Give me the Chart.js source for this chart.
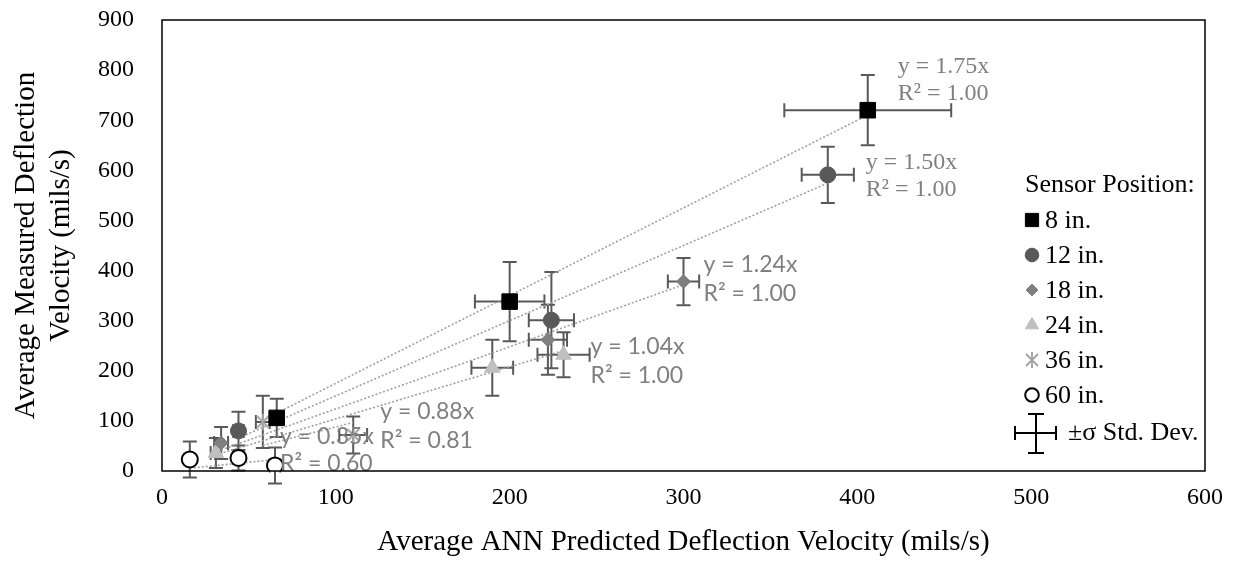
<!DOCTYPE html>
<html>
<head>
<meta charset="utf-8">
<script src="https://cdn.jsdelivr.net/npm/chart.js@4.4.0/dist/chart.umd.min.js"></script>
<style>
    html, body { margin: 0; padding: 0; background: #ffffff; }
    #wrap { width: 1236px; height: 569px; }
</style>
</head>
<body>
<div id="wrap"><canvas id="ann_chart"></canvas></div>
<script>
// Data (mils/s)

const sensorLabels = ["8 in.", "12 in.", "18 in.", "24 in.", "36 in.", "60 in."];

const predicted8 = [406, 200, 66];
const measured8 = [720, 338, 106];
const predErr8 = [48, 20, 4];
const measErr8 = [70, 79, 38];

const predicted12 = [383, 224, 44];
const measured12 = [591, 301, 80];
const predErr12 = [15, 13, 3];
const measErr12 = [56, 96, 38];

const predicted18 = [300, 222, 34];
const measured18 = [378, 262, 56];
const predErr18 = [9, 11, 4];
const measErr18 = [47, 70, 32];

const predicted24 = [231, 190, 31];
const measured24 = [232, 206, 36];
const predErr24 = [15, 12, 3];
const measErr24 = [45, 56, 30];

const predicted36 = [58, 110];
const measured36 = [98, 72];
const predErr36 = [4, 8];
const measErr36 = [52, 37];

const predicted60 = [16, 44, 65];
const measured60 = [23, 26, 11];
const predErr60 = [2, 3, 3];
const measErr60 = [36, 25, 36];

const trendSlopes = [1.75, 1.50, 1.24, 1.04, 0.88, 0.35];
const trendEq = ["y = 1.75x", "y = 1.50x", "y = 1.24x", "y = 1.04x", "y = 0.88x", "y = 0.35x"];
const trendR2 = ["R² = 1.00", "R² = 1.00", "R² = 1.00", "R² = 1.00", "R² = 0.81", "R² = 0.60"];

const xTicks = [0, 100, 200, 300, 400, 500, 600];
const yTicks = [0, 100, 200, 300, 400, 500, 600, 700, 800, 900];

// Styles

const serif = "'Liberation Serif', 'Times New Roman', serif";
const sans = "Lato, 'Open Sans', sans-serif";
const errColor = "#595959";
const trendColor = "#a0a0a0";
const labelGray = "#808080";

function makeStar(color) {
    const c = document.createElement('canvas');
    c.width = 18;
    c.height = 18;
    const g = c.getContext('2d');
    g.strokeStyle = color;
    g.lineWidth = 2;
    g.beginPath();
    g.moveTo(3, 3); g.lineTo(15, 15);
    g.moveTo(15, 3); g.lineTo(3, 15);
    g.moveTo(9, 1); g.lineTo(9, 17);
    g.stroke();
    return c;
}

const markerStyles = [
    { pointStyle: 'rect', radius: 11, fill: "#000000", stroke: "#000000", border: 1 },
    { pointStyle: 'circle', radius: 8, fill: "#595959", stroke: "#595959", border: 1 },
    { pointStyle: 'rectRot', radius: 7, fill: "#7f7f7f", stroke: "#7f7f7f", border: 1 },
    { pointStyle: 'triangle', radius: 9, fill: "#bfbfbf", stroke: "#bfbfbf", border: 1 },
    { pointStyle: makeStar("#a6a6a6"), radius: 9, fill: "#a6a6a6", stroke: "#a6a6a6", border: 2 },
    { pointStyle: 'circle', radius: 8, fill: "#ffffff", stroke: "#000000", border: 2 }
];

// label offset from the highest point of each series (px)
const eqOffsets = [
    { dx: 30, dy: -43, font: serif, size: 24, gap: 27 },
    { dx: 38, dy: -12, font: serif, size: 24, gap: 27 },
    { dx: 20, dy: -17, font: sans, size: 23, gap: 29 },
    { dx: 27, dy: -8, font: sans, size: 23, gap: 29 },
    { dx: 27, dy: -23, font: sans, size: 23, gap: 29 },
    { dx: 5, dy: -29, font: sans, size: 23, gap: 27 }
];

const seriesX = [predicted8, predicted12, predicted18, predicted24, predicted36, predicted60];
const seriesY = [measured8, measured12, measured18, measured24, measured36, measured60];
const seriesXErr = [predErr8, predErr12, predErr18, predErr24, predErr36, predErr60];
const seriesYErr = [measErr8, measErr12, measErr18, measErr24, measErr36, measErr60];

const datasets = [];

sensorLabels.forEach((label, i) => {
    const xs = seriesX[i];
    const lo = Math.min(...xs);
    const hi = Math.max(...xs);
    datasets.push({
        label: label + " trend",
        data: [{ x: lo, y: trendSlopes[i] * lo }, { x: hi, y: trendSlopes[i] * hi }],
        showLine: true,
        borderColor: trendColor,
        borderWidth: 1.6,
        borderDash: [2, 2],
        pointRadius: 0,
        order: 3
    });
});

sensorLabels.forEach((label, i) => {
    const m = markerStyles[i];
    datasets.push({
        label: label,
        data: seriesX[i].map((x, j) => ({ x: x, y: seriesY[i][j] })),
        errX: seriesXErr[i],
        errY: seriesYErr[i],
        pointStyle: m.pointStyle,
        pointRadius: m.radius,
        pointBackgroundColor: m.fill,
        pointBorderColor: m.stroke,
        pointBorderWidth: m.border,
        pointHoverRadius: m.radius,
        order: 1
    });
});

const errorBars = {
    id: 'errorBars',
    beforeDatasetsDraw(chart) {
        const ctx = chart.ctx;
        const xs = chart.scales.x;
        const ys = chart.scales.y;
        const cap = 7;
        ctx.save();
        ctx.strokeStyle = errColor;
        ctx.lineWidth = 2;
        chart.data.datasets.forEach(ds => {
            if (!ds.errX) return;
            ds.data.forEach((p, j) => {
                const cx = xs.getPixelForValue(p.x);
                const cy = ys.getPixelForValue(p.y);
                const x1 = xs.getPixelForValue(p.x - ds.errX[j]);
                const x2 = xs.getPixelForValue(p.x + ds.errX[j]);
                const y1 = ys.getPixelForValue(p.y + ds.errY[j]);
                const y2 = ys.getPixelForValue(p.y - ds.errY[j]);
                ctx.beginPath();
                ctx.moveTo(x1, cy); ctx.lineTo(x2, cy);
                ctx.moveTo(x1, cy - cap); ctx.lineTo(x1, cy + cap);
                ctx.moveTo(x2, cy - cap); ctx.lineTo(x2, cy + cap);
                ctx.moveTo(cx, y1); ctx.lineTo(cx, y2);
                ctx.moveTo(cx - cap, y1); ctx.lineTo(cx + cap, y1);
                ctx.moveTo(cx - cap, y2); ctx.lineTo(cx + cap, y2);
                ctx.stroke();
            });
        });
        ctx.restore();
    }
};

const trendLabels = {
    id: 'trendLabels',
    afterDatasetsDraw(chart) {
        const ctx = chart.ctx;
        const xs = chart.scales.x;
        const ys = chart.scales.y;
        ctx.save();
        ctx.fillStyle = labelGray;
        ctx.textAlign = 'left';
        ctx.textBaseline = 'middle';
        sensorLabels.forEach((label, i) => {
            const xv = seriesX[i];
            const k = xv.indexOf(Math.max(...xv));
            const px = xs.getPixelForValue(xv[k]);
            const py = ys.getPixelForValue(seriesY[i][k]);
            const o = eqOffsets[i];
            ctx.font = o.size + "px " + o.font;
            ctx.fillText(trendEq[i], px + o.dx, py + o.dy);
            ctx.fillText(trendR2[i], px + o.dx, py + o.dy + o.gap);
        });
        ctx.restore();
    }
};

const frameAndLegend = {
    id: 'frameAndLegend',
    afterDraw(chart) {
        const ctx = chart.ctx;
        const a = chart.chartArea;
        ctx.save();
        ctx.strokeStyle = "#000000";
        ctx.lineWidth = 1.5;
        ctx.strokeRect(a.left, a.top, a.right - a.left, a.bottom - a.top);

        // legend
        const mx = a.right - 173;
        const tx = a.right - 160;
        ctx.fillStyle = "#000000";
        ctx.font = "26px " + serif;
        ctx.textBaseline = 'middle';
        ctx.textAlign = 'left';
        ctx.fillText("Sensor Position:", a.right - 180, a.top + 165);
        sensorLabels.forEach((label, i) => {
            const y = a.top + 200 + 35 * i;
            const m = markerStyles[i];
            ctx.fillStyle = m.fill;
            ctx.strokeStyle = m.stroke;
            ctx.lineWidth = m.border;
            Chart.helpers.drawPoint(ctx, {
                pointStyle: m.pointStyle,
                radius: m.radius * 0.85,
                rotation: 0,
                borderWidth: m.border
            }, mx, y);
            ctx.fillStyle = "#000000";
            ctx.fillText(label, tx, y + 1);
        });
        const ey = a.top + 413;
        const ex = a.right - 169;
        ctx.strokeStyle = "#000000";
        ctx.lineWidth = 2;
        ctx.beginPath();
        ctx.moveTo(ex - 21, ey); ctx.lineTo(ex + 20, ey);
        ctx.moveTo(ex - 21, ey - 7); ctx.lineTo(ex - 21, ey + 7);
        ctx.moveTo(ex + 20, ey - 7); ctx.lineTo(ex + 20, ey + 7);
        ctx.moveTo(ex, ey - 19); ctx.lineTo(ex, ey + 20);
        ctx.moveTo(ex - 8, ey - 19); ctx.lineTo(ex + 8, ey - 19);
        ctx.moveTo(ex - 8, ey + 20); ctx.lineTo(ex + 8, ey + 20);
        ctx.stroke();
        ctx.fillText("±σ Std. Dev.", a.right - 137, ey);
        ctx.restore();
    }
};

const ann_chart_ctx = document.getElementById('ann_chart').getContext('2d');
const ann_chart = new Chart(ann_chart_ctx, {
    type: 'scatter',
    data: { datasets: datasets },
    plugins: [errorBars, trendLabels, frameAndLegend],
    options: {
        responsive: true,
        maintainAspectRatio: false,
        animation: false,
        layout: { padding: { top: 20, right: 31, left: 0, bottom: 0 } },
        plugins: {
            legend: { display: false },
            tooltip: { enabled: false }
        },
        scales: {
            x: {
                type: 'linear',
                min: 0,
                max: 600,
                afterBuildTicks: (s) => { s.ticks = xTicks.map(v => ({ value: v })); },
                afterFit: (s) => { s.height = 98; s.paddingLeft = 0; s.paddingRight = 0; },
                grid: { display: false, drawTicks: false },
                border: { display: false },
                ticks: {
                    color: "#000000",
                    padding: 12,
                    maxRotation: 0,
                    font: { family: serif, size: 24 }
                },
                title: {
                    display: true,
                    text: "Average ANN Predicted Deflection Velocity (mils/s)",
                    color: "#000000",
                    font: { family: serif, size: 29, lineHeight: 1.15 },
                    padding: { top: 0, bottom: 10 }
                }
            },
            y: {
                type: 'linear',
                min: 0,
                max: 900,
                afterBuildTicks: (s) => { s.ticks = yTicks.map(v => ({ value: v })); },
                afterFit: (s) => { s.width = 162; s.paddingTop = 0; s.paddingBottom = 0; },
                grid: { display: false, drawTicks: false },
                border: { display: false },
                ticks: {
                    color: "#000000",
                    padding: 28,
                    font: { family: serif, size: 24 }
                },
                title: {
                    display: true,
                    text: ["Average Measured Deflection", "Velocity (mils/s)"],
                    color: "#000000",
                    font: { family: serif, size: 29, lineHeight: 1.2 },
                    padding: { top: 9, bottom: 0 }
                }
            }
        }
    }
});
</script>
</body>
</html>
